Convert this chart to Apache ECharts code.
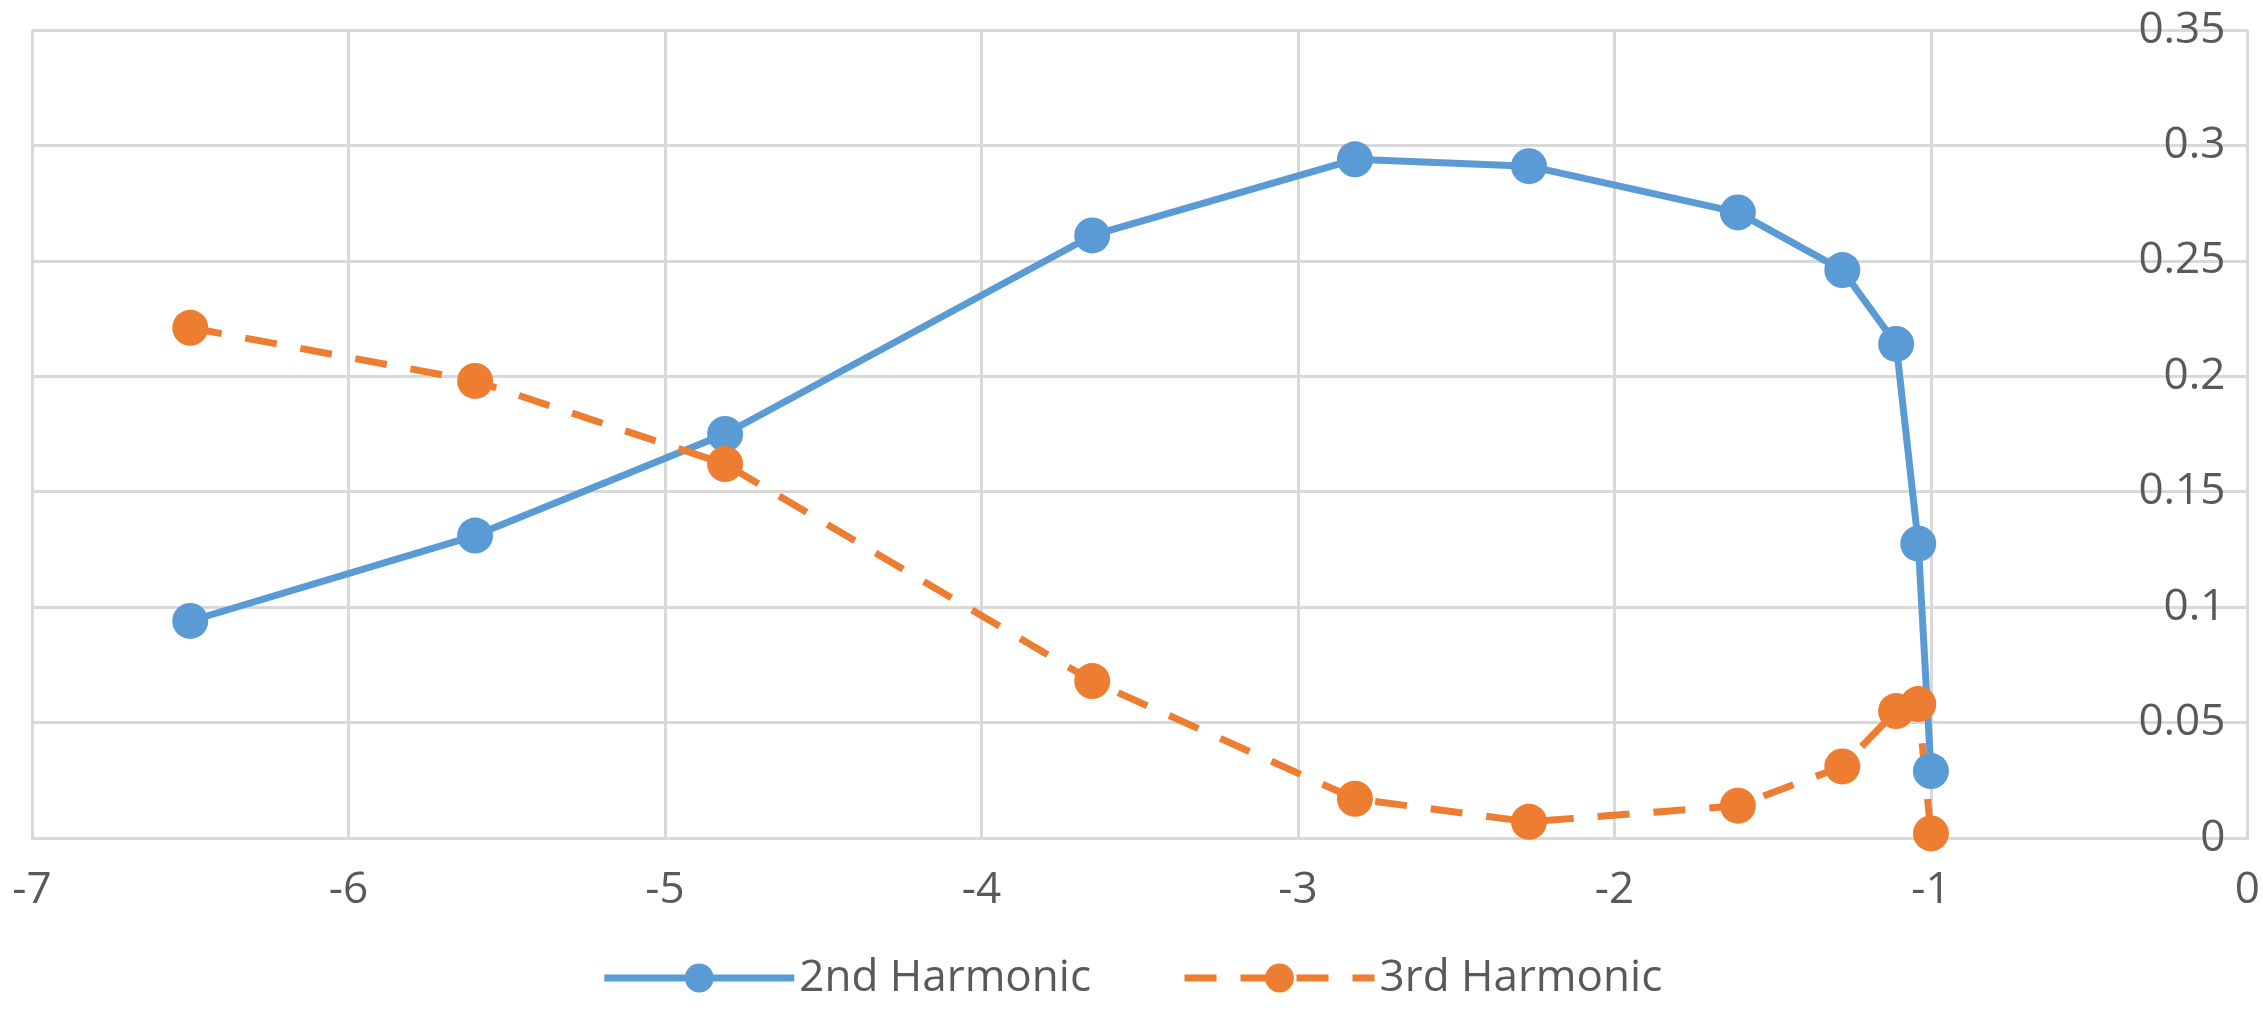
<!DOCTYPE html>
<html><head><meta charset="utf-8">
<script src="https://cdn.jsdelivr.net/npm/echarts@6/dist/echarts.min.js"></script>
<style>html,body{margin:0;padding:0;background:#fff}#c{width:2263px;height:1013px}</style>
</head><body><div id="c"></div>
<script>
const xValues = [-6.5, -5.6, -4.81, -3.65, -2.82, -2.27, -1.61, -1.28, -1.11, -1.04, -1.0];
const second = [0.094, 0.131, 0.175, 0.261, 0.294, 0.291, 0.271, 0.246, 0.214, 0.1275, 0.029];
const third = [0.221, 0.198, 0.162, 0.068, 0.017, 0.007, 0.014, 0.031, 0.055, 0.058, 0.002];
const names = ['2nd Harmonic', '3rd Harmonic'];
const pair = (ys) => xValues.map((x, i) => [x, ys[i]]);
const font = {fontFamily: '"Open Sans", sans-serif', fontSize: 44, color: '#595959'};
const chart = echarts.init(document.getElementById('c'));
chart.setOption({
  animation: false,
  grid: {left: 32, right: 14, top: 30, bottom: 175},
  legend: {bottom: 8, left: 'center', itemWidth: 190, itemHeight: 36, itemGap: 90,
    lineStyle: {width: 7}, textStyle: font, data: names},
  xAxis: {type: 'value', min: -7, max: 0, interval: 1,
    axisLine: {lineStyle: {color: '#d9d9d9', width: 3}}, axisTick: {show: false},
    splitLine: {lineStyle: {color: '#d9d9d9', width: 3}},
    axisLabel: Object.assign({margin: 30}, font)},
  yAxis: {type: 'value', min: 0, max: 0.35, interval: 0.05, position: 'right',
    axisLine: {show: false}, axisTick: {show: false},
    splitLine: {lineStyle: {color: '#d9d9d9', width: 3}},
    axisLabel: Object.assign({inside: true, margin: 22, verticalAlign: 'middle'}, font)},
  series: [
    {name: names[0], type: 'line', data: pair(second), symbol: 'circle', symbolSize: 36,
      lineStyle: {color: '#5b9bd5', width: 7}, itemStyle: {color: '#5b9bd5'}},
    {name: names[1], type: 'line', data: pair(third), symbol: 'circle', symbolSize: 36,
      lineStyle: {color: '#ed7d31', width: 7, type: [32, 24]}, itemStyle: {color: '#ed7d31'}}
  ]
});
</script></body></html>
